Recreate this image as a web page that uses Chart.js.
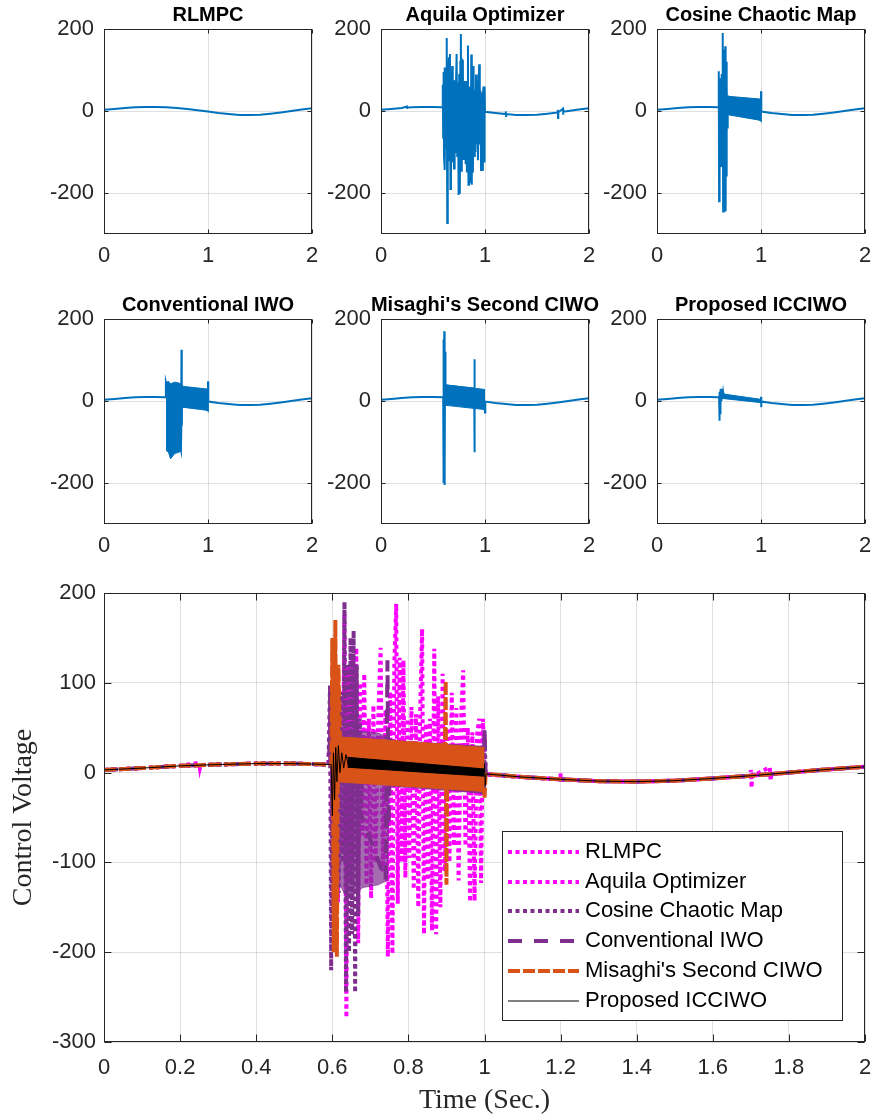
<!DOCTYPE html>
<html lang="en">
<head>
  <meta charset="UTF-8">
  <title>Control Voltage - optimizer comparison</title>
  <script src="https://cdn.jsdelivr.net/npm/chart.js"></script>
  <style>
    body { margin: 0; background: #fff; }
    #page { position: relative; width: 875px; height: 1117px; overflow: hidden; }
    #page canvas { position: absolute; }
  </style>
</head>
<body>
<div id="page">
  <canvas id="p0" width="288" height="279" style="left:34px;top:0px"></canvas>
  <canvas id="p1" width="288" height="279" style="left:311px;top:0px"></canvas>
  <canvas id="p2" width="288" height="279" style="left:587px;top:0px"></canvas>
  <canvas id="p3" width="288" height="279" style="left:34px;top:290px"></canvas>
  <canvas id="p4" width="288" height="279" style="left:311px;top:290px"></canvas>
  <canvas id="p5" width="288" height="279" style="left:587px;top:290px"></canvas>
  <canvas id="main" width="875" height="547" style="left:0px;top:570px"></canvas>
</div>

<script>
  // smooth part shared by every controller (time in s, voltage)
  const baseT = [0, 0.1, 0.2, 0.3, 0.4, 0.5, 0.6, 0.7, 0.8, 0.9, 1.0, 1.1, 1.2, 1.3, 1.4, 1.5, 1.6, 1.7, 1.8, 1.9, 2.0];
  const baseV = [3, 5, 7.5, 9, 10, 10, 9, 7.5, 5, 2, -1.5, -5, -7.5, -9.5, -10, -9, -6.5, -3.5, 0, 3.5, 6.5];

  // Aquila Optimizer: chattering burst 0.59-1.0 s plus a few small blips
  const aquilaT = [0.250, 0.252, 0.254,
    0.590, 0.594, 0.598, 0.602, 0.606, 0.610, 0.615, 0.620, 0.626, 0.632, 0.637, 0.642, 0.648, 0.653, 0.658, 0.663,
    0.668, 0.673, 0.678, 0.684, 0.690, 0.696, 0.702, 0.708, 0.714, 0.720, 0.727, 0.733, 0.740, 0.746, 0.752, 0.758,
    0.763, 0.768, 0.772, 0.777, 0.782, 0.787, 0.792, 0.797, 0.802, 0.808, 0.814, 0.820, 0.826, 0.831, 0.836, 0.841,
    0.846, 0.851, 0.857, 0.862, 0.868, 0.873, 0.878, 0.884, 0.890, 0.896, 0.902, 0.908, 0.914, 0.920, 0.926, 0.932,
    0.938, 0.944, 0.950, 0.956, 0.962, 0.968, 0.974, 0.980, 0.986, 0.991, 0.996, 1.000,
    1.200, 1.202, 1.204, 1.700, 1.702, 1.704, 1.706, 1.750, 1.752, 1.754];
  const aquilaV = [11, 5, 8.5,
    9, 64, -65, 95, -110, 106, -144, 80, -90, 178, -273, 120, -120, 131, -95, 139,
    -190, 100, -70, 110, -125, 60, -140, 75, -100, 50, 139, -110, 70, -205, 90, -202,
    120, 188, -146, 128, -100, 125, -117, 60, -95, 73, -130, 65, -150, 70, 160, -180,
    55, -120, 60, -176, 138, -180, 85, -150, 110, -110, 50, -100, 89, -82, 72, -120,
    55, 114, -82, 50, -144, 45, -143, 40, 60, -123, 60, -2,
    -1, -12, -7.5, 3, -17, 1, -3.5, 6, -9, -1.7];

  // Cosine Chaotic Map
  const cosineT = [0.590, 0.594, 0.597, 0.600, 0.604, 0.608, 0.612, 0.617, 0.622, 0.627, 0.632, 0.636, 0.640,
    0.644, 0.648, 0.652, 0.656, 0.660, 0.664, 0.668, 0.672, 0.676, 0.680, 0.999, 1.000, 1.003];
  const cosineV = [9, 97, -220, 60, -150, 80, -60, -134, 90, -100, 190, -245, 120,
    -200, 150, -180, 158, -245, 120, -160, 60, -40, 36, -23, 48, -1.5];
  const cosineBandT = [0.68, 1.0];
  const cosineBandHi = [36, 29];
  const cosineBandLo = [-9, -23];

  // Conventional IWO
  const convT = [0.590, 0.595, 0.740, 0.745, 0.748, 0.752, 0.999, 1.000, 1.003];
  const convV = [9, 45, -120, 125, -60, 36, -23, 48, -1.5];
  const convBandT = [0.595, 0.62, 0.64, 0.68, 0.72, 0.745, 0.75, 1.0];
  const convBandHi = [45, 48, 42, 46, 44, 40, 36, 29];
  const convBandLo = [-120, -125, -141, -128, -125, -120, -15, -23];

  // Misaghi's Second CIWO
  const misT = [0.598, 0.600, 0.604, 0.608, 0.612, 0.616, 0.620, 0.896, 0.898, 0.900, 0.902, 0.999, 1.000, 1.003];
  const misV = [9, 150, -200, 170, -205, 120, 38, 30, 102, -125, 0, -21, -28, -1.5];
  const misBandT = [0.604, 1.0];
  const misBandHi = [40, 28];
  const misBandLo = [-10, -21];

  // Proposed ICCIWO
  const propT = [0.597, 0.600, 0.603, 0.606, 0.609, 0.612, 0.616, 0.620, 0.625, 0.630, 0.636, 0.642, 0.999, 1.000, 1.002, 1.004];
  const propV = [9, -48, 22, -30, 28, -10, 30, 0, 22, 5, 20, 8, 0, 10, -15, -1.5];
  const propBandT = [0.64, 1.0];
  const propBandHi = [17, 4];
  const propBandLo = [6, -4];

  const methodNames = ['RLMPC', 'Aquila Optimizer', 'Cosine Chaotic Map', 'Conventional IWO',
    "Misaghi's Second CIWO", 'Proposed ICCIWO'];
  const smallXTicks = [0, 1, 2];
  const smallYTicks = [-200, 0, 200];
  const mainXTicks = [0, 0.2, 0.4, 0.6, 0.8, 1, 1.2, 1.4, 1.6, 1.8, 2];
  const mainYTicks = [-300, -200, -100, 0, 100, 200];

  function toPts(T, V) {
    return T.map((t, i) => ({ x: t, y: V[i] }));
  }

  // smooth curve outside [from, to] merged with the burst samples
  function series(T, V, from, to) {
    const pts = toPts(baseT, baseV).filter(p => p.x < from || p.x > to);
    return pts.concat(toPts(T, V)).sort((a, b) => a.x - b.x);
  }

  const methods = [
    { line: toPts(baseT, baseV), band: null },
    { line: series(aquilaT, aquilaV, 0.59, 1.0), band: null },
    { line: series(cosineT, cosineV, 0.59, 1.0), band: [cosineBandT, cosineBandHi, cosineBandLo] },
    { line: series(convT, convV, 0.59, 1.0), band: [convBandT, convBandHi, convBandLo] },
    { line: series(misT, misV, 0.598, 1.0), band: [misBandT, misBandHi, misBandLo] },
    { line: series(propT, propV, 0.597, 1.0), band: [propBandT, propBandHi, propBandLo] }
  ];

  const mainStyles = [
    { color: '#FF00FF', width: 4, dash: [4, 3.5], fill: '#FF00FF' },
    { color: '#FF00FF', width: 4, dash: [4, 3.5], fill: '#FF00FF' },
    { color: '#7E2F8E', width: 4, dash: [4, 3.5], fill: 'rgba(126,47,142,0.8)' },
    { color: '#7E2F8E', width: 4, dash: [14, 12], fill: 'rgba(126,47,142,0.7)' },
    { color: '#D95319', width: 4, dash: [12, 3], fill: '#D95319' },
    { color: '#000000', width: 1, dash: [], fill: '#000000' }
  ];
  const blue = { color: '#0072BD', width: 2, dash: [], fill: '#0072BD' };

  Chart.defaults.font.family = '"Liberation Sans", Arial, sans-serif';
  Chart.defaults.color = '#262626';

  function datasetsFor(m, st, order) {
    const out = [{ data: m.line, borderColor: st.color, borderWidth: st.width, borderDash: st.dash, order: order }];
    if (m.band) {
      const [T, hi, lo] = m.band;
      out.push({ data: toPts(T, hi), borderColor: st.fill, backgroundColor: st.fill, borderWidth: 1, fill: '+1', order: order });
      out.push({ data: toPts(T, lo), borderColor: st.fill, borderWidth: 1, fill: false, order: order });
    }
    return out;
  }

  // axes box with inward ticks, plus optional panel title
  const framePlugin = {
    id: 'frame',
    afterDatasetsDraw(chart, args, opts) {
      const { ctx, chartArea: a, scales } = chart;
      const L = Math.round(a.left) + 0.5, R = Math.round(a.right) - 0.5;
      const T = Math.round(a.top) + 0.5, B = Math.round(a.bottom) - 0.5;
      ctx.save();
      ctx.strokeStyle = '#262626';
      ctx.lineWidth = 1;
      ctx.strokeRect(L, T, R - L, B - T);
      ctx.beginPath();
      scales.x.ticks.forEach(t => {
        const px = Math.round(scales.x.getPixelForValue(t.value)) + 0.5;
        ctx.moveTo(px, B); ctx.lineTo(px, B - opts.tick);
        ctx.moveTo(px, T); ctx.lineTo(px, T + opts.tick);
      });
      scales.y.ticks.forEach(t => {
        const py = Math.round(scales.y.getPixelForValue(t.value)) + 0.5;
        ctx.moveTo(L, py); ctx.lineTo(L + opts.tick, py);
        ctx.moveTo(R, py); ctx.lineTo(R - opts.tick, py);
      });
      ctx.stroke();
      if (opts.title) {
        ctx.font = 'bold 20px "Liberation Sans", Arial, sans-serif';
        ctx.fillStyle = '#000';
        ctx.textAlign = 'center';
        ctx.textBaseline = 'middle';
        ctx.fillText(opts.title, (a.left + a.right) / 2, a.top - 14);
      }
      ctx.restore();
    }
  };

  const legendPlugin = {
    id: 'boxLegend',
    afterDraw(chart, args, opts) {
      if (!opts.items) return;
      const { ctx, chartArea: a } = chart;
      const w = 340, h = 189;
      const bx = Math.round(a.right - 23 - w), by = Math.round(a.bottom - 22 - h);
      ctx.save();
      ctx.fillStyle = '#fff';
      ctx.fillRect(bx, by, w, h);
      ctx.strokeStyle = '#262626';
      ctx.lineWidth = 1;
      ctx.strokeRect(bx + 0.5, by + 0.5, w, h);
      ctx.font = '22px "Liberation Sans", Arial, sans-serif';
      ctx.textBaseline = 'middle';
      opts.items.forEach((it, i) => {
        const cy = Math.round(by + 21 + i * 29.7);
        ctx.beginPath();
        ctx.setLineDash(it.dash);
        ctx.strokeStyle = it.color;
        ctx.lineWidth = it.width;
        ctx.moveTo(bx + 6, cy);
        ctx.lineTo(bx + 77, cy);
        ctx.stroke();
        ctx.setLineDash([]);
        ctx.fillStyle = '#000';
        ctx.fillText(it.label, bx + 83, cy);
      });
      ctx.restore();
    }
  };

  function baseOptions(xTicks, yTicks, sz) {
    return {
      responsive: false,
      animation: false,
      events: [],
      layout: { padding: { top: sz.top, right: sz.right, left: 0, bottom: 0 } },
      elements: { point: { radius: 0 }, line: { tension: 0, fill: false, borderCapStyle: 'butt' } },
      plugins: { legend: { display: false }, tooltip: { enabled: false } },
      scales: {
        x: {
          type: 'linear', min: xTicks[0], max: xTicks[xTicks.length - 1],
          afterBuildTicks: s => { s.ticks = xTicks.map(v => ({ value: v })); },
          afterFit: s => { s.height = sz.xh; s.paddingLeft = 0; s.paddingRight = 0; },
          grid: { color: 'rgba(38,38,38,0.14)', drawTicks: false },
          border: { display: false },
          ticks: { font: { size: 22 }, padding: sz.xpad, maxRotation: 0, callback: v => String(Number(v.toFixed(1))) }
        },
        y: {
          type: 'linear', min: sz.ymin, max: sz.ymax,
          afterBuildTicks: s => { s.ticks = yTicks.map(v => ({ value: v })); },
          afterFit: s => { s.width = sz.yw; s.paddingTop = 0; s.paddingBottom = 0; },
          grid: { color: 'rgba(38,38,38,0.14)', drawTicks: false },
          border: { display: false },
          ticks: { font: { size: 22 }, padding: sz.ypad, callback: v => String(v) }
        }
      }
    };
  }

  // six small panels
  const smallSize = { top: 29, right: 10, xh: 45, yw: 70, xpad: 9, ypad: 10, ymin: -300, ymax: 200 };
  methods.forEach((m, i) => {
    const opts = baseOptions(smallXTicks, smallYTicks, smallSize);
    opts.plugins.frame = { title: methodNames[i], tick: 4 };
    new Chart(document.getElementById('p' + i), {
      type: 'line',
      data: { datasets: datasetsFor(m, blue, 0) },
      options: opts,
      plugins: [framePlugin]
    });
  });

  // combined chart
  const mainSize = { top: 23, right: 10, xh: 75, yw: 104, xpad: 13, ypad: 8, ymin: -300, ymax: 200 };
  const mainOpts = baseOptions(mainXTicks, mainYTicks, mainSize);
  const serif = { family: '"Liberation Serif", "Times New Roman", serif', size: 28 };
  mainOpts.scales.y.title = { display: true, text: 'Control Voltage', font: serif, color: '#262626', padding: { top: 7, bottom: 0 } };
  mainOpts.scales.x.title = { display: true, text: 'Time (Sec.)', font: serif, color: '#262626', padding: { top: 0, bottom: 0 } };
  mainOpts.plugins.frame = { tick: 7 };
  mainOpts.plugins.boxLegend = {
    items: methodNames.map((n, i) => ({ label: n, color: mainStyles[i].color, width: mainStyles[i].width, dash: mainStyles[i].dash }))
  };

  let mainSets = [];
  methods.forEach((m, i) => {
    mainSets = mainSets.concat(datasetsFor(m, mainStyles[i], methods.length - i));
  });

  new Chart(document.getElementById('main'), {
    type: 'line',
    data: { datasets: mainSets },
    options: mainOpts,
    plugins: [framePlugin, legendPlugin]
  });
</script>
</body>
</html>
